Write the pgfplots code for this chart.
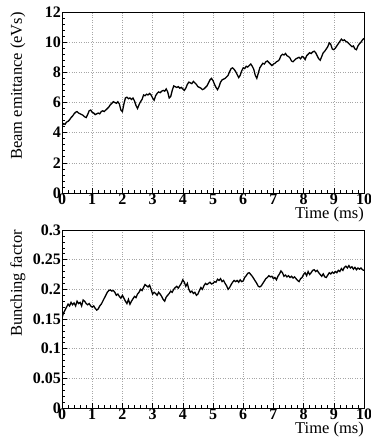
\documentclass[border=0pt]{standalone}
\usepackage{pgfplots}
\usepackage{pgfplotstable}
\pgfplotsset{compat=1.18}
\usepackage{fontspec}
\setmainfont{Liberation Serif}

\pgfplotstableread{
x y
0.00 4.45
0.05 4.60
0.10 4.55
0.15 4.70
0.20 4.75
0.25 4.85
0.30 5.00
0.35 5.10
0.40 5.25
0.45 5.35
0.50 5.40
0.55 5.30
0.60 5.25
0.65 5.20
0.70 5.15
0.75 5.05
0.80 5.00
0.85 5.20
0.90 5.45
0.95 5.50
1.00 5.35
1.05 5.30
1.10 5.20
1.15 5.25
1.20 5.30
1.25 5.25
1.30 5.40
1.35 5.45
1.40 5.40
1.45 5.50
1.50 5.60
1.55 5.70
1.60 5.85
1.65 5.95
1.70 6.05
1.75 6.00
1.80 5.95
1.85 6.05
1.90 5.90
1.95 5.50
2.00 5.40
2.05 5.90
2.10 6.30
2.15 6.35
2.20 6.25
2.25 6.30
2.30 6.20
2.35 6.30
2.40 6.10
2.45 5.80
2.50 5.60
2.55 5.85
2.60 6.05
2.65 6.20
2.70 6.50
2.75 6.45
2.80 6.55
2.85 6.50
2.90 6.60
2.95 6.50
3.00 6.30
3.05 6.15
3.10 6.45
3.15 6.60
3.20 6.70
3.25 6.65
3.30 6.75
3.35 6.80
3.40 6.75
3.45 6.90
3.50 6.70
3.55 6.30
3.60 6.40
3.65 6.80
3.70 7.10
3.75 7.05
3.80 7.00
3.85 7.05
3.90 6.95
3.95 7.00
4.00 6.90
4.05 6.80
4.10 6.95
4.15 7.20
4.20 7.35
4.25 7.30
4.30 7.25
4.35 7.40
4.40 7.30
4.45 7.20
4.50 7.05
4.55 7.00
4.60 6.95
4.65 6.85
4.70 6.90
4.75 7.00
4.80 7.10
4.85 7.30
4.90 7.50
4.95 7.60
5.00 7.45
5.05 7.20
5.10 7.00
5.15 6.85
5.20 7.05
5.25 7.35
5.30 7.50
5.35 7.55
5.40 7.60
5.45 7.70
5.50 7.80
5.55 8.05
5.60 8.25
5.65 8.30
5.70 8.20
5.75 8.05
5.80 7.85
5.85 7.65
5.90 7.80
5.95 8.10
6.00 8.30
6.05 8.25
6.10 8.40
6.15 8.35
6.20 8.45
6.25 8.55
6.30 8.40
6.35 8.20
6.40 7.80
6.45 7.60
6.50 7.95
6.55 8.30
6.60 8.45
6.65 8.60
6.70 8.55
6.75 8.70
6.80 8.75
6.85 8.65
6.90 8.55
6.95 8.45
7.00 8.55
7.05 8.60
7.10 8.70
7.15 8.75
7.20 8.85
7.25 9.10
7.30 9.20
7.35 9.15
7.40 9.25
7.45 9.10
7.50 9.05
7.55 8.95
7.60 8.75
7.65 8.70
7.70 8.80
7.75 8.90
7.80 8.95
7.85 9.00
7.90 8.90
7.95 9.05
8.00 9.00
8.05 8.85
8.10 9.10
8.15 9.20
8.20 9.30
8.25 9.25
8.30 9.35
8.35 9.40
8.40 9.30
8.45 9.10
8.50 8.90
8.55 8.80
8.60 9.05
8.65 9.30
8.70 9.40
8.75 9.55
8.80 9.70
8.85 9.95
8.90 9.85
8.95 9.55
9.00 9.50
9.05 9.60
9.10 9.75
9.15 9.90
9.20 10.05
9.25 10.20
9.30 10.10
9.35 10.15
9.40 10.05
9.45 10.00
9.50 9.90
9.55 9.80
9.60 9.70
9.65 9.75
9.70 9.55
9.75 9.50
9.80 9.75
9.85 9.90
9.90 10.00
9.95 10.15
10.00 10.25
}\emitdata

\pgfplotstableread{
x y
0.00 0.152
0.05 0.160
0.10 0.165
0.15 0.170
0.20 0.175
0.25 0.172
0.30 0.178
0.35 0.174
0.40 0.177
0.45 0.172
0.50 0.180
0.55 0.176
0.60 0.178
0.65 0.172
0.70 0.182
0.75 0.180
0.80 0.176
0.85 0.174
0.90 0.176
0.95 0.172
1.00 0.170
1.05 0.172
1.10 0.168
1.15 0.165
1.20 0.167
1.25 0.172
1.30 0.175
1.35 0.180
1.40 0.185
1.45 0.190
1.50 0.195
1.55 0.198
1.60 0.199
1.65 0.197
1.70 0.198
1.75 0.195
1.80 0.190
1.85 0.192
1.90 0.188
1.95 0.185
2.00 0.190
2.05 0.185
2.10 0.180
2.15 0.176
2.20 0.183
2.25 0.175
2.30 0.180
2.35 0.184
2.40 0.188
2.45 0.186
2.50 0.192
2.55 0.195
2.60 0.200
2.65 0.198
2.70 0.203
2.75 0.208
2.80 0.206
2.85 0.204
2.90 0.207
2.95 0.200
3.00 0.192
3.05 0.195
3.10 0.193
3.15 0.190
3.20 0.195
3.25 0.192
3.30 0.188
3.35 0.183
3.40 0.180
3.45 0.187
3.50 0.190
3.55 0.193
3.60 0.197
3.65 0.195
3.70 0.200
3.75 0.203
3.80 0.205
3.85 0.202
3.90 0.206
3.95 0.210
4.00 0.216
4.05 0.212
4.10 0.205
4.15 0.210
4.20 0.200
4.25 0.195
4.30 0.197
4.35 0.193
4.40 0.195
4.45 0.190
4.50 0.192
4.55 0.198
4.60 0.203
4.65 0.200
4.70 0.206
4.75 0.210
4.80 0.208
4.85 0.210
4.90 0.212
4.95 0.209
5.00 0.210
5.05 0.213
5.10 0.212
5.15 0.217
5.20 0.215
5.25 0.218
5.30 0.213
5.35 0.215
5.40 0.210
5.45 0.206
5.50 0.200
5.55 0.203
5.60 0.208
5.65 0.212
5.70 0.215
5.75 0.213
5.80 0.215
5.85 0.212
5.90 0.216
5.95 0.213
6.00 0.214
6.05 0.220
6.10 0.223
6.15 0.227
6.20 0.228
6.25 0.225
6.30 0.222
6.35 0.218
6.40 0.214
6.45 0.210
6.50 0.205
6.55 0.204
6.60 0.206
6.65 0.210
6.70 0.214
6.75 0.218
6.80 0.220
6.85 0.223
6.90 0.221
6.95 0.222
7.00 0.218
7.05 0.220
7.10 0.216
7.15 0.222
7.20 0.226
7.25 0.231
7.30 0.228
7.35 0.222
7.40 0.224
7.45 0.221
7.50 0.223
7.55 0.220
7.60 0.222
7.65 0.219
7.70 0.221
7.75 0.218
7.80 0.215
7.85 0.213
7.90 0.218
7.95 0.220
8.00 0.225
8.05 0.228
8.10 0.223
8.15 0.230
8.20 0.225
8.25 0.228
8.30 0.232
8.35 0.233
8.40 0.230
8.45 0.232
8.50 0.228
8.55 0.225
8.60 0.222
8.65 0.226
8.70 0.221
8.75 0.220
8.80 0.224
8.85 0.228
8.90 0.226
8.95 0.229
9.00 0.227
9.05 0.230
9.10 0.228
9.15 0.232
9.20 0.230
9.25 0.235
9.30 0.232
9.35 0.237
9.40 0.239
9.45 0.236
9.50 0.240
9.55 0.236
9.60 0.238
9.65 0.234
9.70 0.237
9.75 0.233
9.80 0.236
9.85 0.234
9.90 0.236
9.95 0.233
10.00 0.232
}\bunchdata

\pgfplotsset{rootstyle/.style={
  scale only axis, width=302pt,
  xmin=0, xmax=10, xtick={0,1,...,10},
  minor x tick num=4, minor y tick num=4,
  tick align=inside, xtick pos=bottom, ytick pos=left,
  major tick length=5pt, minor tick length=2.5pt,
  grid=major, grid style={gray!70, dotted, line width=0.6pt},
  axis line style={line width=0.8pt},
  every tick/.style={black, line width=0.6pt},
  tick label style={font=\fontsize{16}{18}\selectfont\bfseries, /pgf/number format/assume math mode=true},
  yticklabel style={/pgf/number format/fixed, /pgf/number format/precision=2, inner sep=1pt},
  xticklabel style={inner sep=1pt},
  label style={font=\fontsize{16.5}{19}\selectfont},
  xlabel={Time (ms)},
  xlabel style={at={(axis description cs:1,0)}, anchor=north east, yshift=-14pt, inner sep=0pt},
  ylabel style={at={(axis description cs:-0.146,1)}, anchor=east, inner sep=0pt},
}}

\begin{document}
\begin{tikzpicture}[x=1pt,y=1pt]
\useasboundingbox (0,0) rectangle (371,445);
\begin{axis}[rootstyle, at={(62pt,252pt)}, anchor=south west, height=181pt,
  ymin=0, ymax=12, ytick={0,2,...,12},
  ylabel={Beam emittance (eVs)}]
\addplot[black, line width=1.3pt] table[x=x,y=y] {\emitdata};
\end{axis}
\begin{axis}[rootstyle, at={(62pt,37pt)}, anchor=south west, height=178pt,
  ymin=0, ymax=0.3, ytick={0,0.05,0.1,0.15,0.2,0.25,0.3},
  ylabel={Bunching factor}]
\addplot[black, line width=1.3pt] table[x=x,y=y] {\bunchdata};
\end{axis}
\end{tikzpicture}
\end{document}
